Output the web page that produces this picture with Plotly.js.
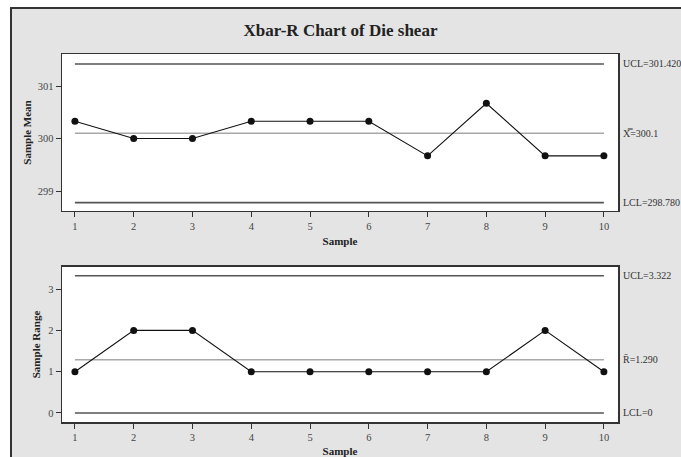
<!DOCTYPE html>
<html><head><meta charset="utf-8">
<script src="https://cdn.plot.ly/plotly-3.0.1.min.js"></script>
<style>html,body{margin:0;padding:0;background:#fff}#chart{width:681px;height:457px}</style>
</head><body><div id="chart"></div>
<script>
// ---- data ----
const samples = [1, 2, 3, 4, 5, 6, 7, 8, 9, 10];
const sampleMeans = [300.33, 300.0, 300.0, 300.33, 300.33, 300.33, 299.67, 300.67, 299.67, 299.67];
const sampleRanges = [1, 2, 2, 1, 1, 1, 1, 1, 2, 1];
const xbarLimits = { UCL: 301.420, center: 300.1, LCL: 298.780 };
const rLimits = { UCL: 3.322, center: 1.290, LCL: 0 };
const xbarLabels = ["UCL=301.420", "X\u033F=300.1", "LCL=298.780"];
const rLabels = ["UCL=3.322", "R\u0304=1.290", "LCL=0"];
const xbarTicks = [299, 300, 301];
const rTicks = [0, 1, 2, 3];

const serif = "Liberation Serif, DejaVu Serif, serif";
const limitColor = "#555";
const centerColor = "#a8a8a8";
const xEnds = [samples[0], samples[samples.length - 1]];

function hline(y, color, xa, ya) {
  return { x: xEnds, y: [y, y], mode: "lines", xaxis: xa, yaxis: ya,
    line: { color: color, width: 1.6 }, hoverinfo: "skip", showlegend: false };
}
function dataTrace(vals, xa, ya) {
  return { x: samples, y: vals, mode: "lines+markers", xaxis: xa, yaxis: ya,
    line: { color: "#111", width: 1.1 }, marker: { color: "#111", size: 7 }, showlegend: false };
}

const traces = [
  hline(xbarLimits.UCL, limitColor, "x", "y"),
  hline(xbarLimits.center, centerColor, "x", "y"),
  hline(xbarLimits.LCL, limitColor, "x", "y"),
  dataTrace(sampleMeans, "x", "y"),
  hline(rLimits.UCL, limitColor, "x2", "y2"),
  hline(rLimits.center, centerColor, "x2", "y2"),
  hline(rLimits.LCL, limitColor, "x2", "y2"),
  dataTrace(sampleRanges, "x2", "y2")
];

const axisCommon = {
  showgrid: false, zeroline: false, showline: true, mirror: true,
  linecolor: "#333", linewidth: 1.5, ticks: "outside", ticklen: 5, tickwidth: 1,
  tickcolor: "#333", tickfont: { family: serif, size: 10.5, color: "#444" }
};
const titleFont = { family: serif, size: 11, color: "#222", weight: "bold" };

const xbarVals = [xbarLimits.UCL, xbarLimits.center, xbarLimits.LCL];
const rVals = [rLimits.UCL, rLimits.center, rLimits.LCL];
const annotations = [];
xbarVals.forEach((v, i) => annotations.push({ xref: "paper", x: 1.005, yref: "y", y: v,
  xanchor: "left", yanchor: "middle", showarrow: false, text: xbarLabels[i],
  font: { family: serif, size: 10, color: "#333" } }));
rVals.forEach((v, i) => annotations.push({ xref: "paper", x: 1.005, yref: "y2", y: v,
  xanchor: "left", yanchor: "middle", showarrow: false, text: rLabels[i],
  font: { family: serif, size: 10, color: "#333" } }));

const px = v => (v - 62) / 556;
const py = v => (422 - v) / 368;

const layout = {
  width: 681, height: 457,
  margin: { l: 62, r: 63, t: 54, b: 35 },
  paper_bgcolor: "#e4e4e4", plot_bgcolor: "#ffffff",
  title: { text: "Xbar-R Chart of Die shear", x: 0.5, xref: "container", y: 1 - 30 / 457, yref: "container",
    yanchor: "middle", font: { family: serif, size: 17, color: "#222", weight: "bold" } },
  xaxis: Object.assign({}, axisCommon, { domain: [0, 1], range: [0.78, 10.24], anchor: "y",
    tickvals: samples, title: { text: "Sample", font: titleFont, standoff: 6 } }),
  yaxis: Object.assign({}, axisCommon, { domain: [0.5734, 1], range: [298.62, 301.61], anchor: "x",
    tickvals: xbarTicks, title: { text: "Sample Mean", font: titleFont, standoff: 4 } }),
  xaxis2: Object.assign({}, axisCommon, { domain: [0, 1], range: [0.78, 10.24], anchor: "y2",
    tickvals: samples, title: { text: "Sample", font: titleFont, standoff: 6 } }),
  yaxis2: Object.assign({}, axisCommon, { domain: [0, 0.4212], range: [-0.218, 3.535], anchor: "x2",
    tickvals: rTicks, title: { text: "Sample Range", font: titleFont, standoff: 5 } }),
  shapes: [
    // white surround outside the frame (left strip and top strip)
    { type: "rect", xref: "paper", yref: "paper", layer: "above",
      x0: px(-5), x1: px(11), y0: py(470), y1: py(-5), fillcolor: "#ffffff", line: { width: 0 } },
    { type: "rect", xref: "paper", yref: "paper", layer: "above",
      x0: px(-5), x1: px(700), y0: py(8), y1: py(-5), fillcolor: "#ffffff", line: { width: 0 } },
    // frame border
    { type: "rect", xref: "paper", yref: "paper", layer: "above",
      x0: px(11), x1: px(700), y0: py(480), y1: py(8),
      fillcolor: "rgba(0,0,0,0)", line: { color: "#333", width: 2 } }
  ],
  annotations: annotations
};

Plotly.newPlot("chart", traces, layout, { displayModeBar: false, staticPlot: true });
</script>
</body></html>
